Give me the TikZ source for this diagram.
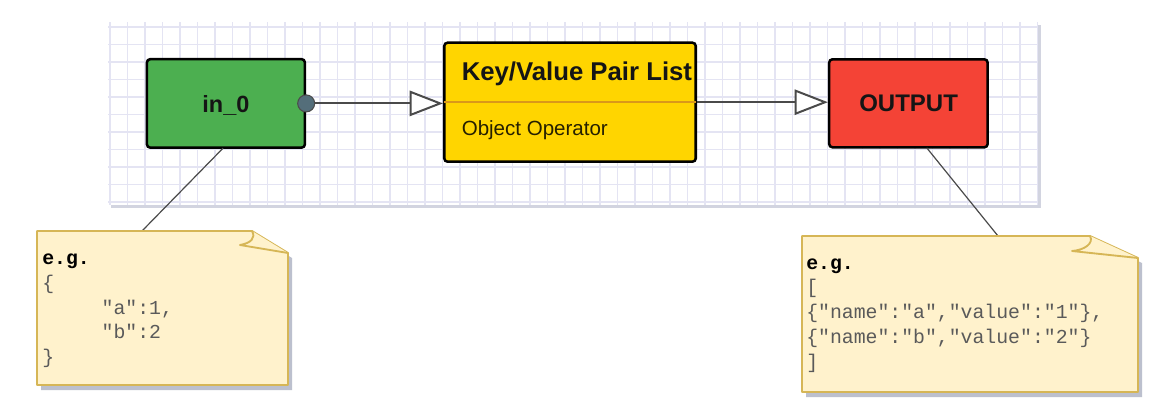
\documentclass[tikz,border=0pt]{standalone}
\usepackage{fontspec}
\setmainfont{Liberation Sans}
\newfontfamily\notemono{Liberation Mono}
\usetikzlibrary{arrows.meta}
\definecolor{gridc}{HTML}{E4E4F3}
\definecolor{canvasshadow}{HTML}{D2D4E0}
\definecolor{greenf}{HTML}{4CAF50}
\definecolor{yellowf}{HTML}{FFD500}
\definecolor{redf}{HTML}{F44336}
\definecolor{sepc}{HTML}{D9981A}
\definecolor{portc}{HTML}{546E7A}
\definecolor{linkc}{HTML}{4A4A4A}
\definecolor{notef}{HTML}{FFF2CC}
\definecolor{notec}{HTML}{D6B656}
\definecolor{noteshadow}{HTML}{BCC0CE}
\definecolor{notetext}{HTML}{5A5A5A}
\definecolor{boxtext}{HTML}{151515}
\tikzset{
  x=0.75pt, y=-0.75pt,
  gridline/.style={draw=gridc, line width=1.4pt},
  opbox/.style={draw=black, line width=1.9pt, rounded corners=2.5pt, inner sep=0pt},
  boxlabel/.style={inner sep=0pt, text=boxtext},
  link/.style={draw=linkc, line width=1.5pt, -{Triangle[length=25pt, width=19pt, fill=white]}},
  noteline/.style={draw=linkc, line width=0.9pt},
  notebody/.style={fill=notef, draw=notec, line width=1.4pt, line join=round},
  notetxt/.style={anchor=base west, inner sep=0pt, text=notetext, font=\notemono\fontsize{14.85pt}{18pt}\selectfont},
  notehead/.style={anchor=base west, inner sep=0pt, text=black, font=\notemono\bfseries\fontsize{14.85pt}{18pt}\selectfont},
}
\begin{document}
\begin{tikzpicture}
\useasboundingbox (0,0) rectangle (1155,414);
\fill[white] (0,0) rectangle (1155,414);
% canvas
\fill[canvasshadow] (111,25) rectangle (1041,208);
\fill[white] (108,22) rectangle (1038,205);
\begin{scope}
  \clip (108,22) rectangle (1038,205);
  \foreach \i in {0,...,53} \draw[gridline] ({110+17.5*\i},22) -- ({110+17.5*\i},205);
  \foreach \j in {0,...,10} \draw[gridline] (108,{27+17.5*\j}) -- (1038,{27+17.5*\j});
\end{scope}

% boxes
\node[opbox, fill=greenf, minimum width=158pt*0.75, minimum height=88.5pt*0.75] (in0) at (225.9,103.4) {};
\node[opbox, fill=yellowf, minimum width=251.5pt*0.75, minimum height=119pt*0.75] (kv) at (570,102.2) {};
\node[opbox, fill=redf, minimum width=158.5pt*0.75, minimum height=88pt*0.75] (out) at (908.4,103.3) {};
\draw[sepc, line width=1.1pt] ([xshift=1pt]kv.west) -- ([xshift=-1pt]kv.east);

\node[boxlabel, anchor=base, font=\bfseries\fontsize{17.6pt}{20pt}\selectfont] (in0t) at (225.9,112.3) {in\_0};
\node[boxlabel, anchor=base west, font=\bfseries\fontsize{19.3pt}{22pt}\selectfont] (kvt) at (461.5,80) {Key/Value Pair List};
\node[boxlabel, anchor=base west, font=\fontsize{15.4pt}{18pt}\selectfont, text=black!85!yellowf] (kvs) at (461.5,135) {Object Operator};
\node[boxlabel, anchor=base, font=\bfseries\fontsize{18pt}{20pt}\selectfont] (outt) at (908.6,111.7) {OUTPUT};

% port and links
\node[circle, fill=portc, draw=black!70, line width=0.8pt, minimum size=17pt*0.75, inner sep=0pt] (port) at (in0.east) {};
\draw[link] (port) -- (port -| kv.west);
\draw[link] (kv.east) -- (kv.east -| out.west);

% notes
\coordinate (in0b) at (223,148.2);
\coordinate (n1t) at (142,231);
\coordinate (outb) at (926.7,147.8);
\coordinate (n2t) at (998,236);
\draw[noteline] (in0b) -- (n1t);
\draw[noteline] (outb) -- (n2t);

% note 1
\fill[noteshadow] (41,236) -- (256,236) -- (292,258) -- (292,390) -- (41,390) -- cycle;
\draw[notebody] (37,231) -- (252,231) -- (288,253) -- (288,385) -- (37,385) -- cycle;
\draw[notebody] (252,231) .. controls (256,238) and (251,243) .. (240,245) -- (288,253);
\node[notehead] (n1a) at (42,264) {e.g.};
\node[notetxt] (n1b) at (42,289) {\{};
\node[notetxt] (n1c) at (42,314) {\hphantom{xxxxx}"a":1,};
\node[notetxt] (n1d) at (42,338.5) {\hphantom{xxxxx}"b":2};
\node[notetxt] (n1e) at (42,363) {\}};

% note 2
\fill[noteshadow] (806,241) -- (1094,241) -- (1142,263) -- (1142,397) -- (806,397) -- cycle;
\draw[notebody] (802,236) -- (1090,236) -- (1138,258) -- (1138,392) -- (802,392) -- cycle;
\draw[notebody] (1090,236) .. controls (1094,243) and (1085,250) .. (1072,251) -- (1138,258);
\node[notehead] (n2a) at (806,269) {e.g.};
\node[notetxt] (n2b) at (806,293) {[};
\node[notetxt] (n2c) at (806,318) {\{"name":"a","value":"1"\},};
\node[notetxt] (n2d) at (806,343) {\{"name":"b","value":"2"\}};
\node[notetxt] (n2e) at (806,368) {]};
\end{tikzpicture}
\end{document}
